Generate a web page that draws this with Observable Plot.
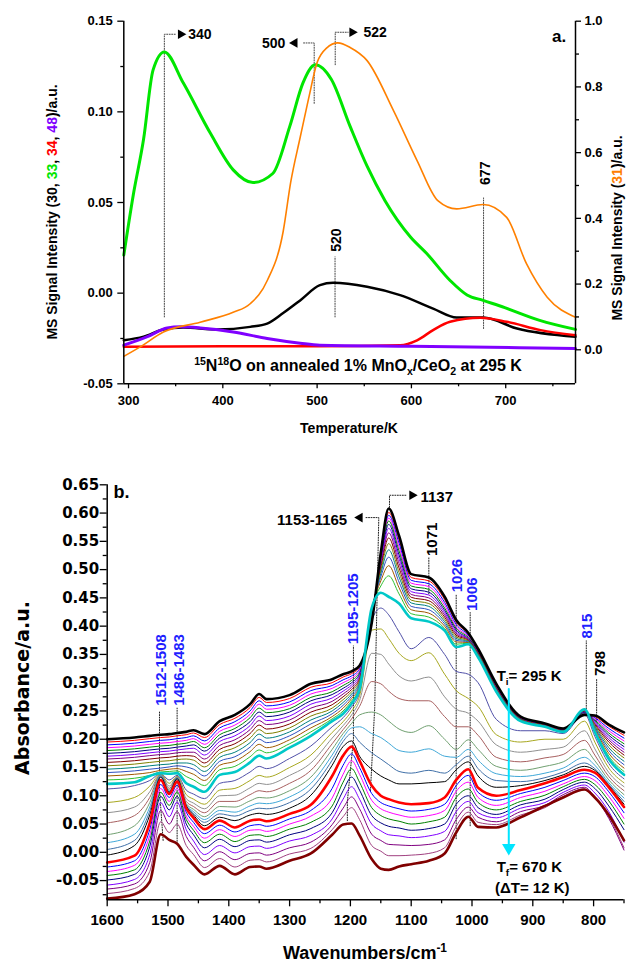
<!DOCTYPE html>
<html><head><meta charset="utf-8">
<script src="https://cdn.jsdelivr.net/npm/d3@7"></script>
<script src="https://cdn.jsdelivr.net/npm/@observablehq/plot@0.6"></script>
<style>
body{margin:0;background:#fff;}
#wrap{position:relative;width:626px;height:964px;overflow:hidden;font-family:"Liberation Sans",Arial,sans-serif;font-weight:bold;color:#000;}
.ov{position:absolute;white-space:nowrap;line-height:1;}
.ov sup,.ov sub{font-size:0.66em;line-height:0;}
</style></head><body><div id="wrap"></div>
<script>
// ================= Panel a: TPD mass signals =================
const tempGreen = [295,305,316,326,338,358,387,411,432,453,471,485,498,515,535,553,572,599,616,641,659,676,699,736,774];
const sig33 = [0.021,0.054,0.085,0.123,0.133,0.116,0.088,0.068,0.061,0.066,0.092,0.116,0.126,0.118,0.092,0.070,0.051,0.031,0.022,0.007,-0.001,-0.004,-0.008,-0.015,-0.020];
const tempOrange = [295,312,337,376,411,429,447,464,472,482,491,500,510,522,535,553,581,606,628,648,676,701,722,744,774];
const sig31 = [-0.02,0.008,0.054,0.084,0.114,0.14,0.21,0.36,0.51,0.646,0.765,0.874,0.918,0.934,0.92,0.88,0.728,0.576,0.454,0.429,0.442,0.403,0.262,0.16,0.099];
const tempBlack = [295,316,337,358,394,429,447,464,482,503,517,553,588,623,648,676,712,774];
const sig30 = [-0.026,-0.024,-0.020,-0.019,-0.020,-0.0186,-0.0168,-0.011,-0.004,0.0044,0.0057,0.0035,-0.0011,-0.0085,-0.0134,-0.0134,-0.0195,-0.0241];
const tempRed = [295,400,500,588,606,623,641,673,701,737,774];
const sig34 = [-0.0295,-0.0293,-0.0293,-0.0287,-0.026,-0.0204,-0.0158,-0.0136,-0.0158,-0.0204,-0.0232];
const tempPurple = [295,320,341,355,376,411,447,482,503,600,774];
const sig48 = [-0.0287,-0.024,-0.0192,-0.0186,-0.0192,-0.0214,-0.025,-0.0276,-0.0287,-0.0293,-0.0305];

const xTicksA = [300,400,500,600,700];
const xMinorA = [350,450,550,650,750];
const yTicksA = [-0.05,0,0.05,0.10,0.15];
const yMinorA = [-0.025,0.025,0.075,0.125];
const rTicksA = [0,0.2,0.4,0.6,0.8,1.0];
const rMinorA = [0.1,0.3,0.5,0.7,0.9];

// annotations panel a (T, left-axis signal)
const aLeaders = [
  [[338,-0.0131],[338,0.1428],[350.6,0.1428]],
  [[496.9,0.1047],[496.9,0.1380],[484.6,0.1380]],
  [[519.2,0.126],[519.2,0.1439],[532.9,0.1439]],
  [[519,-0.0131],[519,0.0200]],
  [[676.5,-0.0195],[676.5,0.0525]]
];
const aHeads = [{T:355.4,v:0.1428,rot:90},{T:476.2,v:0.1380,rot:-90},{T:537.2,v:0.1439,rot:90}];
const aLabelsStart = [{T:363.3,v:0.1428,t:"340"},{T:549.2,v:0.1436,t:"522"}];
const aLabelsEnd = [{T:466.2,v:0.1375,t:"500"}];
const aRotLabels = [{T:521,v:0.0228,t:"520"},{T:679,v:0.0597,t:"677"}];

// right axis (31) mapped into left units
const R0 = -0.1035, R1 = 1.0, L0 = -0.05, L1 = 0.15;
const rToL = r => L0 + (r - R0) / (R1 - R0) * (L1 - L0);
const lToR = l => R0 + (l - L0) / (L1 - L0) * (R1 - R0);

const pts = (xs, ys) => xs.map((x, i) => ({x, y: ys[i]}));
const FONT = "Liberation Sans, Arial, sans-serif";

const plotA = Plot.plot({
  width: 626, height: 440,
  marginTop: 20.7, marginBottom: 56.7, marginLeft: 123.3, marginRight: 51,
  x: {domain: [295, 774]},
  y: {domain: [L0, L1]},
  style: {fontFamily: FONT, fontWeight: "bold", fontSize: "13px", background: "transparent", overflow: "visible"},
  marks: [
    Plot.line(aLeaders.flatMap((seg, k) => seg.map(p => ({x: p[0], y: p[1], k}))), {x: "x", y: "y", z: "k", stroke: "#444", strokeWidth: 1, strokeDasharray: "1,1.5"}),
    Plot.line(pts(tempBlack, sig30), {x: "x", y: "y", stroke: "#000", strokeWidth: 2.5, curve: "monotone-x"}),
    Plot.line(pts(tempRed, sig34), {x: "x", y: "y", stroke: "#ff0000", strokeWidth: 2.5, curve: "monotone-x"}),
    Plot.line(pts(tempPurple, sig48), {x: "x", y: "y", stroke: "#8000ff", strokeWidth: 3, curve: "monotone-x"}),
    Plot.line(pts(tempGreen, sig33), {x: "x", y: "y", stroke: "#00e600", strokeWidth: 3, curve: "monotone-x"}),
    Plot.line(pts(tempOrange, sig31.map(rToL)), {x: "x", y: "y", stroke: "#ff8000", strokeWidth: 1.6, curve: "monotone-x"}),
    Plot.dot(aHeads, {x: "T", y: "v", symbol: "triangle", rotate: "rot", r: 3.6, fill: "#000", stroke: null}),
    Plot.text(aLabelsStart, {x: "T", y: "v", text: "t", textAnchor: "start", fontSize: 14, fontWeight: "bold"}),
    Plot.text(aLabelsEnd, {x: "T", y: "v", text: "t", textAnchor: "end", fontSize: 14, fontWeight: "bold"}),
    Plot.text(aRotLabels, {x: "T", y: "v", text: "t", rotate: -90, textAnchor: "start", fontSize: 14, fontWeight: "bold"}),
    Plot.text([{T: 749, v: 0.1416, t: "a."}], {x: "T", y: "v", text: "t", textAnchor: "start", fontSize: 17, fontWeight: "bold"}),
    Plot.ruleX([295], {stroke: "#000", strokeWidth: 1.5}),
    Plot.ruleX([774], {stroke: "#000", strokeWidth: 1.5}),
    Plot.ruleY([L0], {stroke: "#000", strokeWidth: 1.5}),
    Plot.axisX(xTicksA, {anchor: "bottom", tickSize: 5, tickPadding: 7, tickFormat: d => String(d), label: null, fontSize: 13, fontWeight: "bold", strokeWidth: 1.3}),
    Plot.axisX(xMinorA, {anchor: "bottom", tickSize: 3, tickFormat: () => "", label: null, strokeWidth: 1.3}),
    Plot.axisY(yTicksA, {anchor: "left", tickSize: 6, tickPadding: 5, tickFormat: d => d.toFixed(2), label: null, fontSize: 13, fontWeight: "bold", strokeWidth: 1.3}),
    Plot.axisY(yMinorA, {anchor: "left", tickSize: 3, tickFormat: () => "", label: null, strokeWidth: 1.3}),
    Plot.axisY(rTicksA.map(rToL), {anchor: "right", tickSize: 5, tickPadding: 4, tickFormat: d => lToR(d).toFixed(1), label: null, fontSize: 13, fontWeight: "bold", strokeWidth: 1.3}),
    Plot.axisY(rMinorA.map(rToL), {anchor: "right", tickSize: 3, tickFormat: () => "", label: null, strokeWidth: 1.3})
  ]
});

// ================= Panel b: IR spectra =================
const wavenumbers = [1600,1555,1530,1512,1498,1485,1470,1458,1440,1415,1390,1365,1350,1338,1300,1265,1230,1212,1198,1185,1165,1150,1137,1120,1100,1071,1045,1026,1006,990,960,920,880,850,815,798,775,750];
// each row: absorbance of the 32 spectra (295 K at top ... 670 K at bottom) at one wavenumber
const absorbanceColumns = [
[.200,.195,.190,.185,.180,.175,.170,.165,.159,.153,.147,.141,.135,.128,.121,.112,.088,.070,.052,.031,.017,.005,-.005,-.018,-.026,-.034,-.041,-.049,-.058,-.065,-.073,-.082],
[.203,.198,.193,.188,.183,.178,.173,.168,.162,.156,.150,.144,.138,.131,.124,.118,.097,.080,.065,.047,.032,.021,.012,-.006,-.015,-.023,-.031,-.039,-.048,-.056,-.064,-.074],
[.206,.201,.196,.191,.186,.181,.176,.171,.165,.159,.153,.147,.141,.136,.135,.127,.117,.107,.097,.088,.080,.073,.066,.052,.040,.030,.020,.010,-.004,-.018,-.034,-.052],
[.208,.203,.198,.193,.188,.183,.178,.173,.167,.161,.155,.149,.145,.142,.140,.139,.139,.138,.138,.137,.136,.135,.133,.128,.120,.113,.106,.099,.088,.074,.054,.032],
[.209,.204,.199,.194,.189,.184,.179,.174,.168,.162,.156,.151,.147,.143,.139,.128,.122,.117,.113,.110,.108,.107,.106,.103,.097,.090,.083,.075,.063,.050,.035,.022],
[.211,.206,.201,.196,.191,.186,.181,.176,.170,.164,.158,.153,.148,.144,.140,.136,.134,.133,.133,.132,.132,.131,.130,.125,.119,.113,.107,.099,.089,.072,.050,.015],
[.213,.208,.203,.198,.193,.188,.183,.177,.171,.165,.158,.151,.143,.134,.122,.110,.102,.095,.090,.086,.084,.083,.082,.078,.071,.064,.058,.050,.040,.028,.012,-.008],
[.216,.211,.206,.201,.196,.190,.184,.177,.170,.163,.155,.147,.138,.128,.116,.103,.094,.087,.081,.076,.072,.069,.066,.061,.053,.046,.039,.031,.020,.009,-.004,-.022],
[.209,.203,.197,.191,.185,.179,.172,.165,.158,.151,.143,.135,.127,.118,.107,.095,.085,.077,.070,.063,.058,.053,.047,.041,.033,.025,.017,.008,-.004,-.015,-.027,-.039],
[.232,.226,.220,.214,.208,.202,.196,.189,.182,.175,.168,.161,.154,.146,.137,.122,.110,.100,.090,.081,.074,.068,.062,.056,.048,.040,.032,.023,.012,.001,-.011,-.024],
[.243,.237,.231,.225,.219,.213,.206,.199,.192,.185,.177,.169,.161,.152,.142,.127,.113,.101,.090,.080,.071,.064,.056,.044,.036,.028,.019,.010,-.001,-.013,-.026,-.039],
[.262,.256,.250,.244,.238,.231,.224,.217,.210,.202,.194,.186,.178,.169,.159,.142,.127,.114,.102,.091,.082,.074,.066,.056,.047,.039,.030,.021,.010,-.002,-.014,-.026],
[.280,.274,.268,.262,.255,.248,.241,.233,.225,.217,.209,.200,.191,.181,.171,.152,.136,.122,.109,.097,.087,.078,.069,.058,.049,.040,.031,.022,.011,-.001,-.013,-.025],
[.271,.265,.259,.253,.247,.240,.233,.226,.218,.210,.202,.194,.185,.176,.166,.148,.133,.120,.107,.096,.086,.077,.067,.055,.046,.037,.028,.018,.007,-.005,-.017,-.029],
[.278,.272,.266,.260,.254,.248,.241,.234,.227,.220,.213,.206,.199,.192,.185,.166,.150,.136,.122,.109,.098,.088,.078,.068,.059,.050,.041,.031,.020,.008,-.003,-.015],
[.298,.292,.286,.280,.274,.268,.262,.255,.248,.241,.234,.227,.220,.213,.206,.188,.172,.158,.145,.133,.122,.112,.101,.084,.074,.064,.053,.042,.030,.018,.007,-.002],
[.306,.300,.295,.290,.284,.279,.273,.267,.261,.255,.250,.245,.240,.236,.232,.222,.212,.202,.192,.182,.172,.163,.154,.135,.113,.096,.082,.070,.059,.049,.040,.031],
[.315,.310,.305,.300,.295,.290,.285,.280,.275,.270,.265,.260,.255,.250,.245,.238,.231,.224,.217,.210,.203,.196,.187,.171,.154,.138,.124,.109,.094,.078,.063,.049],
[.320,.316,.312,.308,.304,.300,.296,.292,.288,.284,.280,.276,.272,.268,.263,.257,.250,.243,.236,.228,.220,.210,.197,.187,.174,.162,.148,.133,.116,.098,.079,.051],
[.330,.327,.324,.321,.318,.315,.312,.309,.306,.303,.300,.297,.294,.291,.288,.282,.276,.268,.258,.243,.222,.195,.170,.162,.150,.138,.124,.110,.094,.077,.058,.030],
[.405,.408,.410,.412,.414,.416,.418,.420,.422,.424,.426,.428,.430,.432,.432,.410,.393,.352,.302,.248,.210,.176,.147,.118,.104,.092,.079,.065,.050,.032,.012,-.012],
[.530,.527,.524,.521,.518,.515,.511,.507,.503,.498,.493,.487,.480,.471,.459,.432,.395,.350,.298,.243,.203,.165,.135,.100,.088,.077,.065,.052,.038,.021,.002,-.029],
[.608,.601,.596,.591,.586,.580,.573,.565,.556,.546,.535,.522,.507,.489,.452,.420,.378,.333,.285,.232,.193,.155,.128,.094,.082,.071,.059,.046,.031,.014,-.006,-.031],
[.560,.553,.547,.540,.533,.526,.519,.511,.503,.495,.487,.478,.468,.457,.440,.390,.352,.312,.272,.218,.180,.143,.121,.088,.077,.066,.055,.043,.029,.013,-.006,-.025],
[.492,.486,.481,.476,.471,.466,.461,.456,.451,.446,.441,.435,.429,.422,.414,.360,.339,.303,.268,.212,.177,.140,.121,.085,.073,.062,.050,.039,.026,.012,-.005,-.021],
[.486,.480,.475,.470,.465,.460,.455,.450,.445,.440,.435,.429,.423,.416,.408,.380,.353,.310,.268,.224,.183,.145,.123,.087,.076,.065,.054,.042,.029,.014,-.002,-.015],
[.452,.447,.442,.437,.432,.428,.424,.420,.416,.412,.408,.404,.400,.396,.392,.350,.315,.275,.240,.200,.170,.140,.125,.097,.085,.074,.062,.050,.037,.022,.008,-.002],
[.411,.407,.403,.399,.396,.393,.390,.387,.384,.381,.378,.375,.372,.368,.363,.320,.286,.253,.222,.182,.168,.155,.146,.128,.118,.108,.097,.085,.072,.058,.046,.035],
[.388,.386,.384,.382,.380,.378,.377,.376,.375,.374,.373,.372,.371,.370,.368,.315,.272,.246,.222,.199,.182,.170,.160,.147,.136,.124,.112,.100,.090,.080,.071,.063],
[.360,.359,.358,.357,.356,.355,.354,.353,.352,.351,.350,.349,.348,.347,.345,.300,.258,.232,.207,.182,.163,.148,.135,.114,.106,.097,.088,.079,.070,.062,.053,.045],
[.298,.297,.296,.295,.294,.293,.292,.291,.290,.289,.288,.287,.286,.285,.284,.235,.208,.190,.168,.152,.139,.127,.115,.100,.092,.083,.075,.067,.061,.054,.049,.044],
[.240,.239,.239,.238,.238,.237,.237,.236,.236,.235,.235,.234,.234,.233,.232,.215,.195,.177,.160,.145,.134,.125,.118,.110,.104,.097,.090,.084,.078,.072,.066,.062],
[.228,.228,.227,.227,.226,.226,.225,.225,.224,.224,.223,.223,.222,.222,.222,.215,.200,.182,.167,.152,.140,.132,.127,.122,.115,.108,.101,.094,.088,.083,.079,.082],
[.219,.219,.218,.218,.217,.217,.216,.216,.215,.215,.214,.214,.213,.213,.213,.210,.200,.186,.173,.160,.149,.142,.137,.133,.127,.121,.116,.111,.106,.102,.099,.097],
[.243,.244,.245,.246,.247,.248,.249,.250,.250,.251,.251,.252,.252,.253,.253,.245,.232,.215,.198,.182,.168,.158,.152,.146,.140,.134,.129,.124,.119,.115,.112,.111],
[.242,.240,.238,.236,.234,.232,.230,.228,.226,.224,.222,.220,.218,.216,.213,.205,.195,.183,.172,.162,.154,.148,.145,.141,.134,.127,.120,.113,.105,.098,.096,.097],
[.226,.223,.219,.215,.211,.207,.203,.199,.195,.190,.185,.180,.175,.170,.165,.157,.149,.141,.134,.128,.123,.120,.118,.115,.107,.099,.091,.082,.072,.060,.063,.066],
[.212,.207,.202,.197,.192,.187,.182,.177,.172,.167,.161,.155,.149,.143,.137,.130,.123,.116,.109,.102,.096,.090,.085,.080,.070,.060,.050,.040,.018,.004,.008,.021]
];
const spectrumColors = ["#000000","#ff0000","#0000ff","#ff00ff","#008000","#000080","#8000ff","#800080","#800000","#808000","#008080","#3050c0","#a05a00","#30c030","#00c8c8","#5050a8","#a8a820","#909090","#a86060","#70a070","#40a8d8","#4070a8","#000000","#ff0000","#0000ff","#ff00ff","#008000","#000080","#8000ff","#800080","#a04080","#800000"];
const thickSpectra = [0,14,23,31];

const xTicksB = [1600,1500,1400,1300,1200,1100,1000,900,800];
const xMinorB = [1550,1450,1350,1250,1150,1050,950,850,750];
const yTicksB = [-0.05,0,0.05,0.10,0.15,0.20,0.25,0.30,0.35,0.40,0.45,0.50,0.55,0.60,0.65];
const yMinorB = [-0.075,-0.025,0.025,0.075,0.125,0.175,0.225,0.275,0.325,0.375,0.425,0.475,0.525,0.575,0.625];

const bLeaders = [
  [[1135.7,0.61],[1135.7,0.6315],[1106.6,0.6315]],
  [[1167,0.109],[1160,0.256],[1153.3,0.592],[1175,0.592]],
  [[1071,0.457],[1071,0.521]],
  [[1026,0.024],[1026,0.457]],
  [[1003,0.047],[1003,0.424]],
  [[1205,0.056],[1205,0.09],[1195,0.2],[1195,0.365]],
  [[812,0.245],[812,0.374]],
  [[795,0.233],[795,0.307]],
  [[1508,0.021],[1514,0.11],[1514,0.25]],
  [[1485,0.015],[1485,0.255]]
];
const bHeads = [{w:1098.5,v:0.6315,rot:90},{w:1184.5,v:0.592,rot:-90}];
const bLabelsStart = [{w:1084.7,v:0.6285,t:"1137"}];
const bLabelsEnd = [{w:1205.3,v:0.587,t:"1153-1165"}];
const bRotLabels = [
  {w:1195,v:0.368,t:"1195-1205",c:"#1f1fff"},
  {w:1066,v:0.524,t:"1071",c:"#000"},
  {w:1025,v:0.460,t:"1026",c:"#1f1fff"},
  {w:1000,v:0.427,t:"1006",c:"#1f1fff"},
  {w:811,v:0.378,t:"815",c:"#1f1fff"},
  {w:789,v:0.312,t:"798",c:"#000"},
  {w:1512,v:0.259,t:"1512-1508",c:"#1f1fff"},
  {w:1481,v:0.259,t:"1486-1483",c:"#1f1fff"}
];
const tempArrow = [{w:939.5,v:0.289},{w:939.5,v:0.012}];
const tempArrowHead = [{w:939.5,v:0.008}];

const spectra = d3.range(32).map(i => wavenumbers.map((w, j) => ({w, a: absorbanceColumns[j][i]})));
const order = d3.range(32).filter(i => !thickSpectra.includes(i)).concat(thickSpectra);

const plotB = Plot.plot({
  width: 626, height: 500,
  marginTop: 24.3, marginBottom: 60.7, marginLeft: 106.7, marginRight: 2.5,
  x: {domain: [1600, 750]},
  y: {domain: [-0.084, 0.65]},
  style: {fontFamily: FONT, fontWeight: "bold", fontSize: "15px", background: "transparent", overflow: "visible"},
  marks: [
    Plot.line(bLeaders.flatMap((seg, k) => seg.map(p => ({x: p[0], y: p[1], k}))), {x: "x", y: "y", z: "k", stroke: "#222", strokeWidth: 1, strokeDasharray: "1,1.5"}),
    ...order.map(i => Plot.line(spectra[i], {x: "w", y: "a", stroke: spectrumColors[i], strokeWidth: thickSpectra.includes(i) ? 2.6 : 1, curve: "monotone-x"})),
    Plot.line(tempArrow, {x: "w", y: "v", stroke: "#00e5ff", strokeWidth: 2}),
    Plot.dot(tempArrowHead, {x: "w", y: "v", symbol: "triangle", rotate: 180, r: 5, fill: "#00e5ff", stroke: null}),
    Plot.dot(bHeads, {x: "w", y: "v", symbol: "triangle", rotate: "rot", r: 3.6, fill: "#000", stroke: null}),
    Plot.text(bLabelsStart, {x: "w", y: "v", text: "t", textAnchor: "start", fontSize: 15, fontWeight: "bold"}),
    Plot.text(bLabelsEnd, {x: "w", y: "v", text: "t", textAnchor: "end", fontSize: 15, fontWeight: "bold"}),
    Plot.text(bRotLabels, {x: "w", y: "v", text: "t", fill: "c", rotate: -90, textAnchor: "start", fontSize: 15, fontWeight: "bold"}),
    Plot.text([{w: 1589.6, v: 0.636, t: "b."}], {x: "w", y: "v", text: "t", textAnchor: "start", fontSize: 18, fontWeight: "bold"}),
    Plot.ruleX([1600], {stroke: "#000", strokeWidth: 1.5}),
    Plot.ruleY([-0.084], {stroke: "#000", strokeWidth: 1.5}),
    Plot.axisX(xTicksB, {anchor: "bottom", tickSize: 7, tickPadding: 8, tickFormat: d => String(d), label: null, fontSize: 15, fontWeight: "bold", strokeWidth: 1.3}),
    Plot.axisX(xMinorB, {anchor: "bottom", tickSize: 4, tickFormat: () => "", label: null, strokeWidth: 1.3}),
    Plot.axisY(yTicksB, {anchor: "left", tickSize: 7, tickPadding: 1, tickFormat: d => d.toFixed(2), label: null, fontSize: 15, fontWeight: "bold", fontFamily: "DejaVu Sans", strokeWidth: 1.3}),
    Plot.axisY(yMinorB, {anchor: "left", tickSize: 4, tickFormat: () => "", label: null, strokeWidth: 1.3})
  ]
});

// ================= assemble =================
const wrap = document.getElementById("wrap");
plotA.style.position = "absolute"; plotA.style.left = "0px"; plotA.style.top = "0px";
plotB.style.position = "absolute"; plotB.style.left = "0px"; plotB.style.top = "460px";
wrap.appendChild(plotA);
wrap.appendChild(plotB);

function overlay(html, x, y, size, opts = {}) {
  const d = document.createElement("div");
  d.className = "ov";
  d.innerHTML = html;
  d.style.left = x + "px";
  d.style.top = y + "px";
  d.style.fontSize = size + "px";
  if (opts.font) d.style.fontFamily = opts.font;
  const rot = opts.rotate ? ` rotate(${opts.rotate}deg)` : "";
  d.style.transform = (opts.left ? "translate(0,-50%)" : "translate(-50%,-50%)") + rot;
  wrap.appendChild(d);
}
overlay('MS Signal Intensity (30, <span style="color:#00e600">33</span>, <span style="color:#ff0000">34</span>, <span style="color:#8000ff">48</span>)/a.u.', 52, 212, 14, {rotate: -90});
overlay('MS Signal Intensity (<span style="color:#ff8000">31</span>)/a.u.', 617, 228, 14, {rotate: -90});
overlay('<sup>15</sup>N<sup>18</sup>O on annealed 1% MnO<sub>x</sub>/CeO<sub>2</sub> at 295 K', 358, 366, 16);
overlay('Temperature/K', 349, 428, 14);
overlay('Absorbance/a.u.', 22, 688, 19, {rotate: -90, font: '"DejaVu Sans", sans-serif'});
overlay('Wavenumbers/cm<sup>-1</sup>', 365, 953, 18);
overlay('T<sub>i</sub>= 295 K', 496.7, 675, 15, {left: true});
overlay('T<sub>f</sub>= 670 K', 496.7, 866, 15, {left: true});
overlay('(ΔT= 12 K)', 495, 887, 15, {left: true});
</script></body></html>
